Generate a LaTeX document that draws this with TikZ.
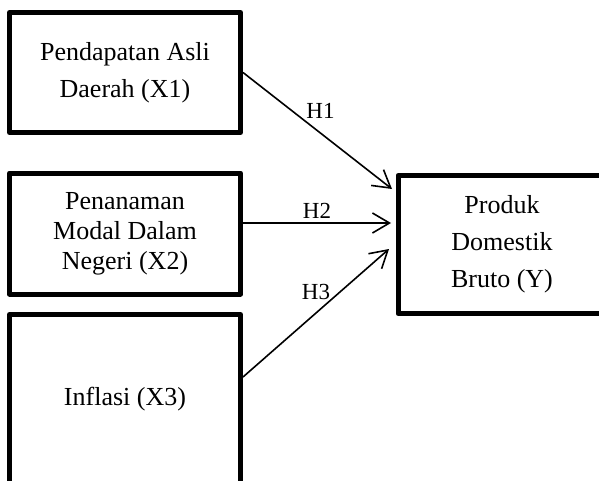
\documentclass[tikz,border=0pt]{standalone}
\usepackage{fontspec}
\setmainfont{Liberation Serif}
\usepackage{tikz}
\usetikzlibrary{positioning,arrows.meta,calc}

\begin{document}
\begin{tikzpicture}[x=0.5pt, y=-0.5pt,
  varbox/.style={draw, line width=2.5pt, line join=round, minimum width=115.5pt,
    align=center, inner sep=0pt, font=\fontsize{13}{18.5}\selectfont},
  hyparrow/.style={-{Straight Barb[length=8.5pt,width=10pt]}, line width=0.8pt},
  hyplabel/.style={font=\fontsize{11.5}{13}\selectfont, inner sep=2pt}]
  \clip (0,0) rectangle (599,481);

  % independent variables
  \node[varbox, minimum height=60pt] (X1) at (125,72.5) {Pendapatan Asli\\Daerah (X1)};
  \node[varbox, minimum height=60.5pt, font=\fontsize{13}{15}\selectfont] (X2) at (125,233.5)
    {Penanaman\\Modal Dalam\\Negeri (X2)};
  \node[varbox, minimum height=100pt, text depth=18pt] (X3) at (125,414.5) {Inflasi (X3)};

  % dependent variable
  \node[varbox, minimum width=104pt, minimum height=69pt] (Y) at (502,244.5)
    {Produk\\Domestik\\Bruto (Y)};

  % arrow ends
  \coordinate (h1e) at (392,189);
  \coordinate (h2s) at ($(X2.east)+(0,-10.5)$);
  \coordinate (h2e) at (391,223);
  \coordinate (h3s) at ($(X3.east)+(0,-37.5)$);
  \coordinate (h3e) at (389,249);

  % hypotheses
  \draw[hyparrow] (X1.east) -- (h1e) node[hyplabel, pos=0.52, above=5pt] {H1};
  \draw[hyparrow] (h2s) -- (h2e) node[hyplabel, pos=0.5, above] {H2};
  \draw[hyparrow] (h3s) -- (h3e) node[hyplabel, pos=0.5, above=4pt] {H3};
\end{tikzpicture}
\end{document}
